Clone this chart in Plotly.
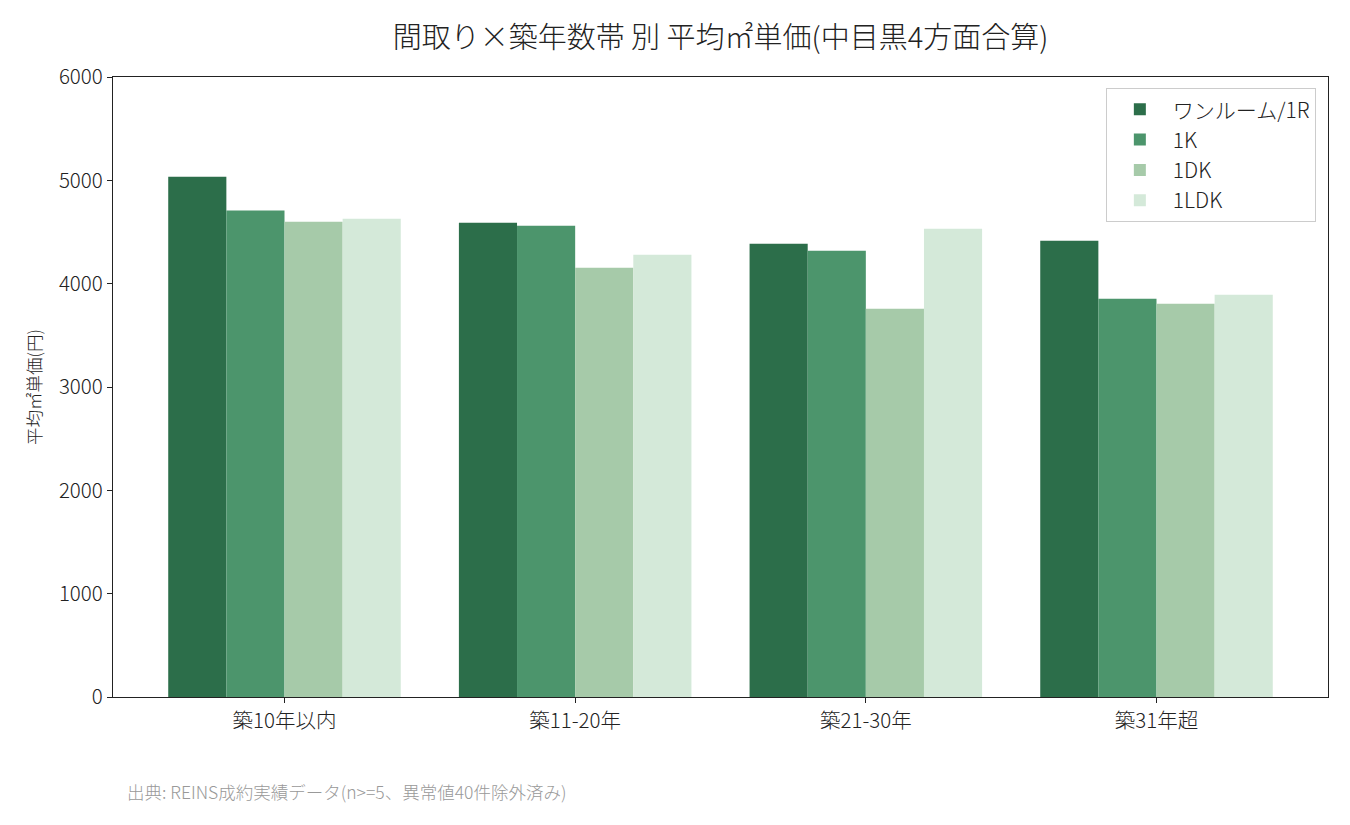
import plotly.graph_objects as go

# 築年数帯ごとの平均㎡単価(円)
age_bands = ['築10年以内', '築11-20年', '築21-30年', '築31年超']
layouts = ['ワンルーム/1R', '1K', '1DK', '1LDK']
price_1r = [5035, 4590, 4387, 4416]
price_1k = [4707, 4561, 4319, 3854]
price_1dk = [4600, 4155, 3757, 3806]
price_1ldk = [4629, 4280, 4532, 3893]

COLORS = ['#2c6e4a', '#4c956c', '#a6caa9', '#d4e9d9']
FONT = 'Noto Sans CJK JP, Noto Sans, sans-serif'

fig = go.Figure()
for name, vals, color in zip(layouts, [price_1r, price_1k, price_1dk, price_1ldk], COLORS):
    fig.add_trace(go.Bar(
        x=age_bands,
        y=vals,
        name=name,
        marker=dict(color=color, line=dict(width=0)),
    ))

# the page has an 8px body margin, so margins are shifted by that much
fig.update_layout(
    title=dict(text='間取り×築年数帯 別 平均㎡単価(中目黒4方面合算)',
               xref='paper', x=0.5, xanchor='center', y=0.964, yanchor='middle',
               font=dict(size=29, family=FONT, color='#222222', weight=300)),
    barmode='group',
    bargap=0.2,
    bargroupgap=0,
    width=1350, height=825,
    margin=dict(l=105, r=30, t=69, b=136),
    plot_bgcolor='white',
    paper_bgcolor='white',
    font=dict(family=FONT, size=20, color='#222222', weight=300),
    xaxis=dict(range=[-0.59, 3.59], showline=True, linecolor='#222222', linewidth=1.3,
               mirror=True, ticks='outside', ticklen=5, tickcolor='#222222',
               showgrid=False, tickfont=dict(size=20.5)),
    yaxis=dict(range=[0, 6000], dtick=1000, showline=True, linecolor='#222222', linewidth=1.3,
               mirror=True, ticks='outside', ticklen=5, tickcolor='#222222',
               showgrid=False, zeroline=False, tickfont=dict(size=20.5),
               title=dict(text='平均㎡単価(円)', font=dict(size=17.5), standoff=12)),
    legend=dict(x=0.99, y=0.982, xanchor='right', yanchor='top',
                bgcolor='rgba(255,255,255,0.9)', bordercolor='#cccccc', borderwidth=1,
                font=dict(size=21), tracegroupgap=6, itemwidth=56),
    annotations=[dict(text='出典: REINS成約実績データ(n>=5、異常値40件除外済み)',
                      xref='paper', yref='paper', x=0.0095, y=-0.153,
                      xanchor='left', yanchor='middle', showarrow=False,
                      font=dict(size=17.5, color='#999999', family=FONT, weight=300))],
)

fig.write_html('out.html')
